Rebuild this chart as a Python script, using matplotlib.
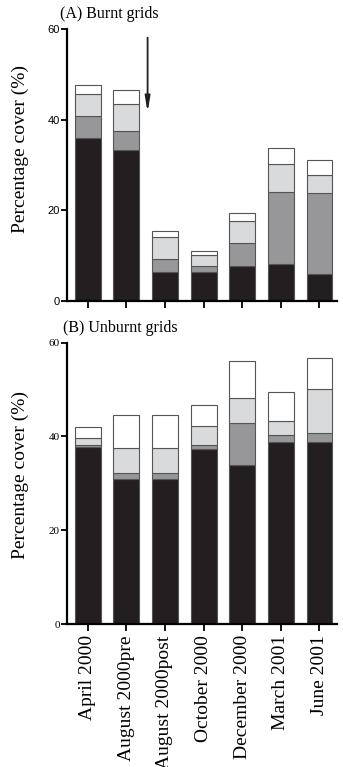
import numpy as np
from matplotlib import pyplot as plt

months = ["April 2000", "August 2000pre", "August 2000post", "October 2000",
          "December 2000", "March 2001", "June 2001"]

# panel A, burnt grids (segment heights, bottom to top)
burnt_black = [35.9, 33.2, 6.4, 6.4, 7.7, 8.2, 6.0]
burnt_dark = [4.8, 4.2, 2.8, 1.4, 5.0, 15.8, 17.8]
burnt_light = [4.9, 6.1, 4.9, 2.3, 5.0, 6.3, 4.1]
burnt_white = [2.0, 3.0, 1.3, 1.0, 1.8, 3.4, 3.3]

# panel B, unburnt grids
unburnt_black = [37.8, 30.9, 30.9, 37.4, 33.8, 38.7, 38.7]
unburnt_dark = [0.3, 1.2, 1.2, 0.7, 9.1, 1.5, 2.1]
unburnt_light = [1.6, 5.4, 5.4, 4.2, 5.2, 3.0, 9.2]
unburnt_white = [2.3, 7.0, 7.0, 4.3, 7.9, 6.3, 6.8]

yticks = [0, 20, 40, 60]
colors = ["#231f20", "#97979a", "#d9dadb", "#ffffff"]
serif = ["Liberation Serif", "DejaVu Serif"]


def stacked(ax, layers, tick_family, label_y):
    x = np.arange(len(months))
    bottom = np.zeros(len(months))
    for vals, c in zip(layers, colors):
        ax.bar(x, vals, 0.67, bottom=bottom, color=c, edgecolor="#555555",
               linewidth=0.8)
        bottom += np.array(vals)
    ax.set_xlim(-0.54, 6.45)
    ax.set_ylim(0, 60)
    ax.set_yticks(yticks)
    ax.set_xticks(x)
    for s in ["top", "right"]:
        ax.spines[s].set_visible(False)
    ax.spines["left"].set_linewidth(1.6)
    ax.spines["bottom"].set_linewidth(1.6)
    ax.tick_params(axis="y", length=4, width=1.3, labelsize=8, pad=1)
    ax.tick_params(axis="x", length=5, width=1.3, pad=3)
    for t in ax.get_yticklabels():
        t.set_family(tick_family)
    ax.set_ylabel("Percentage cover (%)", family=serif, fontsize=14)
    ax.yaxis.set_label_coords(-0.14, label_y)


fig = plt.figure(figsize=(3.43, 7.67), dpi=100)
ax1 = fig.add_axes([0.195, 0.6076, 0.787, 0.3546])
ax2 = fig.add_axes([0.195, 0.1864, 0.787, 0.367])

stacked(ax1, [burnt_black, burnt_dark, burnt_light, burnt_white], ["Liberation Sans"], 0.56)
ax1.set_xticklabels([])
ax1.text(-0.025, 1.025, "(A) Burnt grids", transform=ax1.transAxes, family=serif,
         fontsize=11.5, va="bottom", ha="left")
ax1.annotate("", xy=(1.55, 41.0), xytext=(1.55, 58.7),
             arrowprops=dict(arrowstyle="-|>,head_width=0.15,head_length=0.9",
                             color="#231f20", lw=1.3))

stacked(ax2, [unburnt_black, unburnt_dark, unburnt_light, unburnt_white], serif, 0.53)
ax2.set_xticklabels(months, rotation=90, family=serif, fontsize=14)
ax2.text(-0.015, 1.025, "(B) Unburnt grids", transform=ax2.transAxes, family=serif,
         fontsize=11.5, va="bottom", ha="left")

fig.savefig("out.png", dpi=100)
